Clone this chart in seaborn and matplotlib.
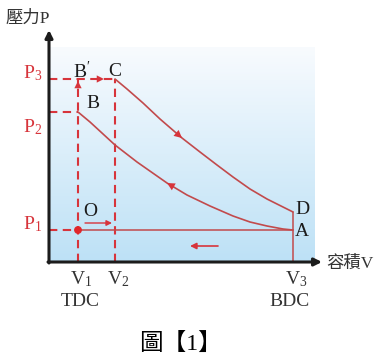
import numpy as np
import matplotlib
matplotlib.use("Agg")
import matplotlib.pyplot as plt
from matplotlib.colors import LinearSegmentedColormap
import seaborn as sns

# ---------------- data (arbitrary units) ----------------
V1, V2, V3 = 29, 66, 244          # TDC, cut-off, BDC volumes
P1, P2, P3 = 32, 150, 183         # pressure levels
PD = 50                           # pressure at D

# expansion C -> D
cd_V = [66, 78, 94, 111, 133, 151, 168, 184, 201, 218, 234, 244]
cd_P = [183, 173, 159, 143, 124, 110, 97, 85, 73, 63, 55, 50]
# compression A -> B (listed from B to A)
ab_V = [29, 41, 66, 88, 118, 138, 161, 184, 201, 218, 234, 244]
ab_P = [150, 140, 117, 100, 79, 67, 56, 46, 40, 36, 33, 32]

p_labels = ["P$_{3}$", "P$_{2}$", "P$_{1}$"]
v_labels = ["V$_{1}$", "V$_{2}$", "V$_{3}$"]
y_title = "壓力P"
x_title = "容積V"
caption = "圖【1】"

# ---------------- style ----------------
sns.set_theme(style="white")
plt.rcParams["font.family"] = ["Liberation Serif", "Noto Sans CJK TC", "DejaVu Sans"]
plt.rcParams["mathtext.fontset"] = "custom"
plt.rcParams["mathtext.rm"] = "Liberation Serif"
plt.rcParams["mathtext.it"] = "Liberation Serif:italic"

RED = "#d7343b"
CURVE = "#c24a4c"
DARK = "#1c1c1c"
FAM = ["Liberation Serif", "Noto Sans CJK TC"]

fig = plt.figure(figsize=(3.82, 3.63), dpi=100)
ax = fig.add_axes([0, 0, 1, 1])
ax.set_xlim(-49, 333)
ax.set_ylim(-101, 262)
ax.axis("off")

# background gradient panel
cmap = LinearSegmentedColormap.from_list("bg", ["#f8fbfe", "#bde1f6"])
grad = np.linspace(0, 1, 256).reshape(-1, 1)
ax.imshow(grad, cmap=cmap, extent=[0, 266, 0, 215], origin="upper",
          aspect="auto", zorder=0)
ax.set_xlim(-49, 333)
ax.set_ylim(-101, 262)

dash = dict(color=RED, lw=1.5, dashes=(4, 2.6), zorder=2)
# dashed guides
ax.plot([0, V2], [P3, P3], **dash)
ax.plot([0, V1], [P2, P2], **dash)
ax.plot([V1, V1], [0, P3], **dash)
ax.plot([V2, V2], [0, P3], **dash)
ax.plot([0, V1], [P1, P1], **dash)
# solid intake/exhaust line and D-A line
ax.plot([V1, V3], [P1, P1], color=CURVE, lw=1.1, zorder=3)
ax.plot([V3, V3], [0, PD], color=CURVE, lw=1.1, zorder=3)

# curves
sns.lineplot(x=cd_V, y=cd_P, sort=False, estimator=None, ax=ax,
             color=CURVE, lw=1.2, legend=False, zorder=3)
sns.lineplot(x=ab_V, y=ab_P, sort=False, estimator=None, ax=ax,
             color=CURVE, lw=1.2, legend=False, zorder=3)

# point O
sns.scatterplot(x=[V1], y=[P1], ax=ax, color="#e0262b", s=32,
                edgecolor="none", zorder=5, legend=False)

# direction arrows
def arrow(xy, xytext, lw=1.0, ms=10, color=RED):
    ax.annotate("", xy=xy, xytext=xytext,
                arrowprops=dict(arrowstyle="-|>", color=color, lw=lw,
                                mutation_scale=ms, shrinkA=0, shrinkB=0),
                zorder=6)

arrow((cd_V[4], cd_P[4]), (cd_V[3] + 8, cd_P[3] - 7), lw=0.01, ms=14)
arrow((ab_V[4], ab_P[4]), ((ab_V[4] + ab_V[5]) / 2 + 4, (ab_P[4] + ab_P[5]) / 2 - 2), lw=0.01, ms=14)
arrow((V1, P3 - 2), (V1, P3 - 14), lw=0.01, ms=13)
arrow((55, P3), (42, P3), lw=0.01, ms=13)
arrow((63, 39), (36, 39), lw=1.0, ms=8)
arrow((141, 16), (169, 16), lw=1.2, ms=9)

# axes with arrows
arrow((273, 0), (-1, 0), lw=2.2, ms=11, color=DARK)
arrow((0, 232), (0, -1), lw=2.2, ms=11, color=DARK)

# texts
ax.text(-44, 243, y_title, ha="left", va="center", fontsize=12.5,
        color="#333333", family=FAM)
ax.text(277, -2, x_title, ha="left", va="center", fontsize=12.5,
        color="#333333", family=FAM)
for lab, p, dy in zip(p_labels, [P3, P2, P1], [6, -15, 6]):
    ax.text(-16, p + dy, lab, ha="center", va="center", fontsize=14,
            color=RED, family=FAM)
ax.text(33, 191, r"B$^{\prime}$", ha="center", va="center", fontsize=14,
        color=DARK, family=FAM)
ax.text(66, 191, "C", ha="center", va="center", fontsize=14, color=DARK, family=FAM)
ax.text(44, 158, "B", ha="center", va="center", fontsize=14, color=DARK, family=FAM)
ax.text(41, 50, "O", ha="center", va="center", fontsize=14, color=DARK, family=FAM)
ax.text(253, 52, "D", ha="center", va="center", fontsize=14, color=DARK, family=FAM)
ax.text(253, 30, "A", ha="center", va="center", fontsize=14, color=DARK, family=FAM)
for lab, v in zip(v_labels, [V1, V2, V3]):
    ax.text(v + 3, -17, lab, ha="center", va="center", fontsize=14,
            color="#333333", family=FAM)
ax.text(V1 + 2, -40, "TDC", ha="center", va="center", fontsize=14,
        color="#333333", family=FAM)
ax.text(V3 - 3, -40, "BDC", ha="center", va="center", fontsize=14,
        color="#333333", family=FAM)
ax.text(131, -82, caption, ha="center", va="center", fontsize=17,
        color="black", family=FAM)

fig.savefig("out.png", dpi=100)
